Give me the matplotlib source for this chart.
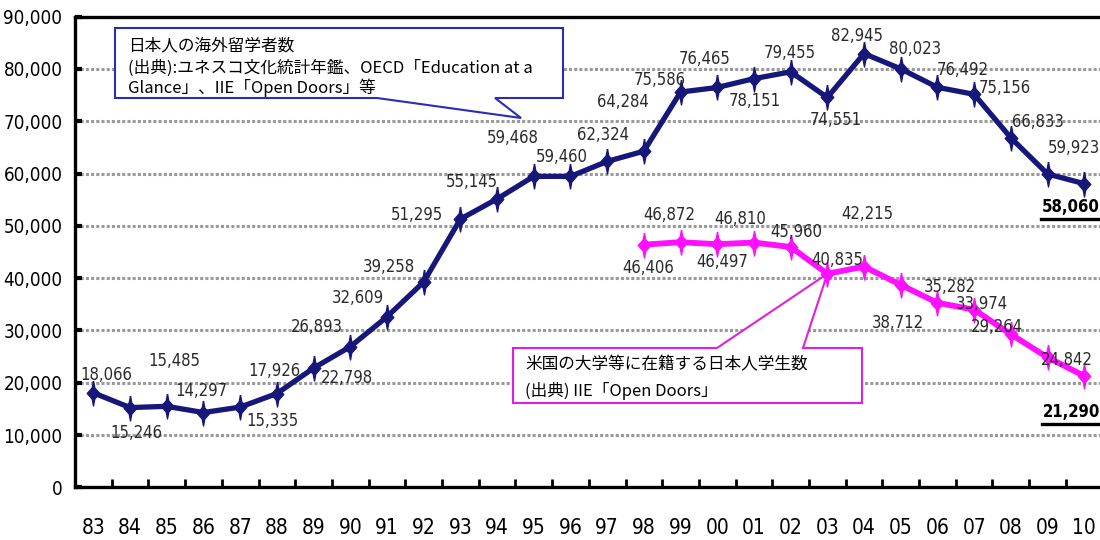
import matplotlib
matplotlib.use("Agg")
import matplotlib.pyplot as plt
import numpy as np
from matplotlib.path import Path
from matplotlib.patches import Polygon
from matplotlib.lines import Line2D


# =========================
# Data
# =========================
years = ["83", "84", "85", "86", "87", "88", "89", "90", "91", "92",
         "93", "94", "95", "96", "97", "98", "99", "00", "01", "02",
         "03", "04", "05", "06", "07", "08", "09", "10"]

# Japanese students studying abroad (all destinations)
abroad = [18066, 15246, 15485, 14297, 15335, 17926, 22798, 26893, 32609, 39258,
          51295, 55145, 59468, 59460, 62324, 64284, 75586, 76465, 78151, 79455,
          74551, 82945, 80023, 76492, 75156, 66833, 59923, 58060]

# Japanese students enrolled at US colleges (from 98 onwards)
us_start = 15
us_students = [46406, 46872, 46497, 46810, 45960, 40835, 42215,
               38712, 35282, 33974, 29264, 24842, 21290]

# label offsets from each point, in pixels (dx, dy up)
abroad_offsets = [(13, 18), (6, -25), (8, 45), (-2, 22), (32, -14), (-2, 23),
                  (33, -10), (-33, 20), (-29, 19), (-35, 15), (-43, 4), (-25, 17),
                  (-21, 38), (-9, 19), (-4, 26), (-21, 49), (-21, 12), (-13, 28),
                  (1, -22), (-1, 19), (8, -23), (-7, 18), (14, 20), (25, 17),
                  (31, 6), (27, 16), (26, 26), (-13, -23)]
us_offsets = [(4, -23), (-11, 27), (5, -18), (-14, 24), (6, 15), (10, 14),
              (3, 53), (-3, -38), (12, 16), (8, 6), (-14, 7), (19, -3), (-13, -36)]

navy = "#17177a"
magenta = "#ff10ff"
num_font = dict(family="DejaVu Sans", stretch="condensed")
jp_font = ["Noto Sans CJK JP", "DejaVu Sans"]

W, H = 1100, 540
fig = plt.figure(figsize=(W / 100, H / 100), dpi=100)
ax = fig.add_axes([75 / W, 1 - 487.3 / H, 1027.6 / W, 470.6 / H])

x = np.arange(len(years))
x_us = x[us_start:]

# spiky diamond marker
star = Path([(0, 1), (0.1, 0.45), (0.5, 0), (0.1, -0.45), (0, -1),
             (-0.1, -0.45), (-0.5, 0), (-0.1, 0.45), (0, 1)])

ax.plot(x, abroad, color=navy, lw=3.8, marker=star, ms=18,
        mfc=navy, mec=navy, mew=1, zorder=3, clip_on=False)
ax.plot(x_us, us_students, color=magenta, lw=4.2, marker=star, ms=18,
        mfc=magenta, mec=magenta, mew=1, zorder=3, clip_on=False)

# axes styling
ax.set_xlim(-0.5, len(years) - 0.5)
ax.set_ylim(0, 90000)
ax.set_yticks(np.arange(0, 90001, 10000))
ax.set_yticklabels([f"{v:,}" for v in range(0, 90001, 10000)],
                   fontsize=13.5, **num_font)
ax.set_xticks(x)
ax.set_xticklabels(years, fontsize=15, **num_font)
ax.set_xticks(x[:-1] + 0.5, minor=True)
ax.tick_params(axis="x", which="major", length=0, pad=22)
ax.tick_params(axis="x", which="minor", direction="in", length=6, width=2)
ax.tick_params(axis="y", direction="in", length=5, width=3, pad=9)

for side in ["left", "bottom", "top", "right"]:
    ax.spines[side].set_linewidth(2.4)
    ax.spines[side].set_color("black")

for v in range(10000, 80001, 10000):
    ax.axhline(v, color="#9a9a9a", lw=2.2, ls=(0, (1, 0.7)), zorder=1)

# value labels
labels = []
for xs, vals, offs in [(x, abroad, abroad_offsets), (x_us, us_students, us_offsets)]:
    for xi, v, (dx, dy) in zip(xs, vals, offs):
        bold = xi == x[-1]
        t = ax.annotate(f"{v:,}", (xi, v), xytext=(dx, dy), textcoords="offset pixels",
                        ha="center", va="center", fontsize=12,
                        color="black" if bold else "#2a2a2a",
                        fontweight="bold" if bold else "normal",
                        annotation_clip=False, zorder=5, **num_font)
        if bold:
            labels.append(t)


# =========================
# Callout boxes
# =========================
def px(xp, yp):
    # pixel position from the top-left corner -> figure fraction
    return (xp / W, 1 - yp / H)


to_fig = fig.transFigure.inverted()

# navy box, pointer hanging below
navy_box = [px(115, 28), px(563, 28), px(563, 98), px(495, 98),
            px(521, 118), px(377, 98), px(115, 98)]
ax.add_patch(Polygon(navy_box, closed=True, transform=fig.transFigure,
                     facecolor="white", edgecolor="#2b2bb8", lw=1.5,
                     zorder=2.5, clip_on=False))
fig.text(*px(128, 46), "日本人の海外留学者数", family=jp_font, fontsize=12,
         va="center", ha="left", zorder=6)
fig.text(*px(128, 68), "(出典):ユネスコ文化統計年鑑、OECD「Education at a",
         family=jp_font, fontsize=12, va="center", ha="left", zorder=6)
fig.text(*px(128, 88), "Glance」、IIE「Open Doors」等", family=jp_font,
         fontsize=12, va="center", ha="left", zorder=6)

# magenta box, pointer up to the 03 point
tip = to_fig.transform(ax.transData.transform((x_us[5], us_students[5])))
mag_box = [px(513, 348), px(717, 348), tuple(tip), px(803, 348),
           px(862, 348), px(862, 403), px(513, 403)]
ax.add_patch(Polygon(mag_box, closed=True, transform=fig.transFigure,
                     facecolor="white", edgecolor="#e020e0", lw=1.5,
                     zorder=2.5, clip_on=False))
fig.text(*px(525, 365), "米国の大学等に在籍する日本人学生数", family=jp_font,
         fontsize=12, va="center", ha="left", zorder=6)
fig.text(*px(525, 391), "(出典) IIE「Open Doors」", family=jp_font,
         fontsize=12, va="center", ha="left", zorder=6)

# underline the latest values
fig.canvas.draw()
renderer = fig.canvas.get_renderer()
for t in labels:
    bb = t.get_window_extent(renderer)
    (x0, y0), (x1, _) = to_fig.transform([(bb.x0 - 1, bb.y0 - 3), (bb.x1 + 4, bb.y1)])
    fig.add_artist(Line2D([x0, x1], [y0, y0], color="black", lw=2.4, zorder=6))

fig.savefig("out.png", dpi=100)
